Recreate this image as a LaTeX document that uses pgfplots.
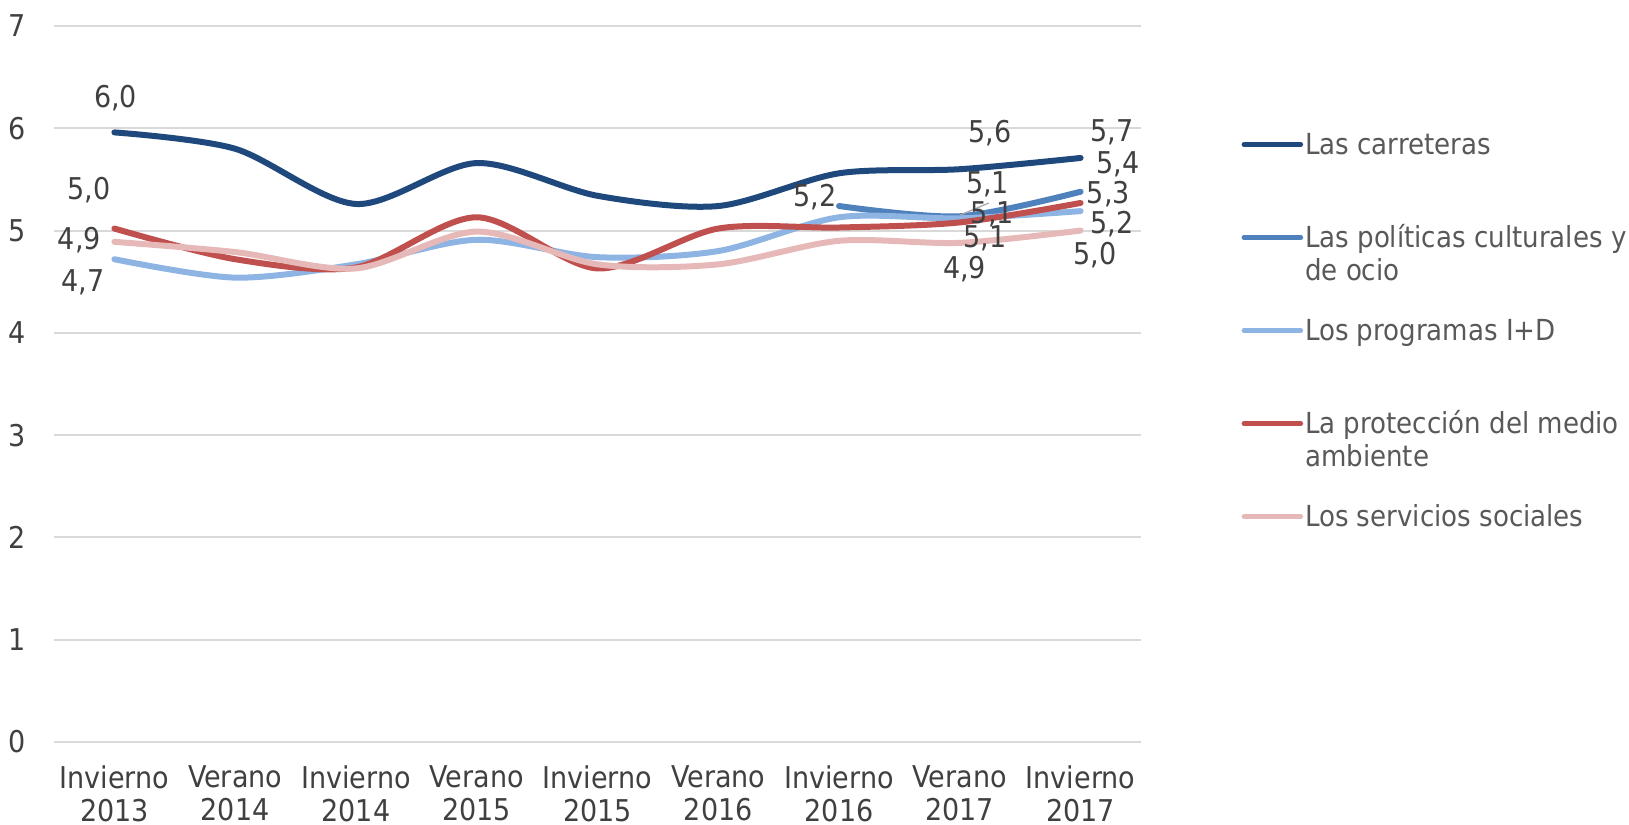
\documentclass[border=0pt]{standalone}
\usepackage{pgfplots}
\pgfplotsset{compat=1.18}
\usepackage{fontspec}
\setmainfont{DejaVu Sans Condensed}

\definecolor{carr}{HTML}{1F497D}
\definecolor{polc}{HTML}{4F81BD}
\definecolor{imas}{HTML}{8EB4E3}
\definecolor{prot}{HTML}{C0504D}
\definecolor{serv}{HTML}{E6B9B8}
\definecolor{gridc}{HTML}{D9D9D9}
\definecolor{txt}{HTML}{404040}
\definecolor{legc}{HTML}{595959}

\newcommand\lgE[1]{\begin{tabular}[t]{@{}l@{}}#1\end{tabular}}

\begin{document}
\fontsize{15pt}{16.5pt}\selectfont
\begin{tikzpicture}
\useasboundingbox (0,0) rectangle (814.5pt,412.5pt);
\begin{axis}[
    at={(27pt,41.5pt)}, anchor=south west,
    scale only axis, width=543.5pt, height=358pt,
    xmin=-0.5, xmax=8.5, ymin=0, ymax=7,
    axis line style={draw=none},
    ytick={0,1,...,7}, xtick={0,1,...,8},
    xticklabels={{Invierno\\2013},{Verano\\2014},{Invierno\\2014},{Verano\\2015},{Invierno\\2015},{Verano\\2016},{Invierno\\2016},{Verano\\2017},{Invierno\\2017}},
    xticklabel style={align=center, text=txt, inner sep=0pt, yshift=-11.5pt},
    yticklabel style={text=txt, xshift=-9pt},
    major tick length=0pt,
    ymajorgrids, grid style={line width=1pt, color=gridc},
    /pgf/number format/assume math mode=true,
    every axis plot/.append style={smooth, tension=0.5, line width=3pt, line cap=round, no markers},
    legend cell align=left,
    legend style={at={(1.0922,0.8575)}, anchor=north west, draw=none, fill=none,
        inner sep=0pt, row sep=8.5pt, text=legc, font=\fontsize{14.5pt}{16.5pt}\selectfont,
        nodes={inner sep=1pt, text height=12pt, text depth=24pt}},
    legend image code/.code={\draw[#1, line width=2.25pt, line cap=round] (0pt,11pt) -- (28.5pt,11pt);},
    clip=false,
]
\addplot[color=carr] coordinates {(0,5.96) (1,5.80) (2,5.26) (3,5.66) (4,5.34) (5,5.24) (6,5.56) (7,5.60) (8,5.71)};
\addlegendentry{\lgE{Las carreteras}}
\addplot[color=polc] coordinates {(6,5.24) (7,5.14) (8,5.38)};
\addlegendentry{\lgE{Las políticas culturales y\\de ocio}}
\addplot[color=imas] coordinates {(0,4.72) (1,4.54) (2,4.67) (3,4.91) (4,4.74) (5,4.80) (6,5.13) (7,5.12) (8,5.19)};
\addlegendentry{\lgE{Los programas I+D}}
\addplot[color=prot] coordinates {(0,5.02) (1,4.72) (2,4.64) (3,5.13) (4,4.63) (5,5.02) (6,5.03) (7,5.08) (8,5.27)};
\addlegendentry{\lgE{La protección del medio\\ambiente}}
\addplot[color=serv] coordinates {(0,4.89) (1,4.79) (2,4.63) (3,4.99) (4,4.67) (5,4.67) (6,4.90) (7,4.88) (8,5.00)};
\addlegendentry{\lgE{Los servicios sociales}}

\draw[gray!70, line width=0.6pt] (axis cs:7.00,5.15) -- (axis cs:7.24,5.27);
\begin{scope}[every node/.style={text=txt, inner sep=0pt}]
\node at (axis cs:0.01,6.30) {6,0};
\node at (axis cs:-0.21,5.40) {5,0};
\node at (axis cs:-0.29,4.91) {4,9};
\node at (axis cs:-0.26,4.49) {4,7};
\node at (axis cs:5.80,5.33) {5,2};
\node at (axis cs:7.25,5.95) {5,6};
\node at (axis cs:7.23,5.45) {5,1};
\node at (axis cs:7.27,5.16) {5,1};
\node at (axis cs:7.21,4.92) {5,1};
\node at (axis cs:7.04,4.62) {4,9};
\node at (axis cs:8.26,5.96) {5,7};
\node at (axis cs:8.31,5.65) {5,4};
\node at (axis cs:8.23,5.36) {5,3};
\node at (axis cs:8.26,5.06) {5,2};
\node at (axis cs:8.12,4.76) {5,0};
\end{scope}
\end{axis}
\end{tikzpicture}
\end{document}
